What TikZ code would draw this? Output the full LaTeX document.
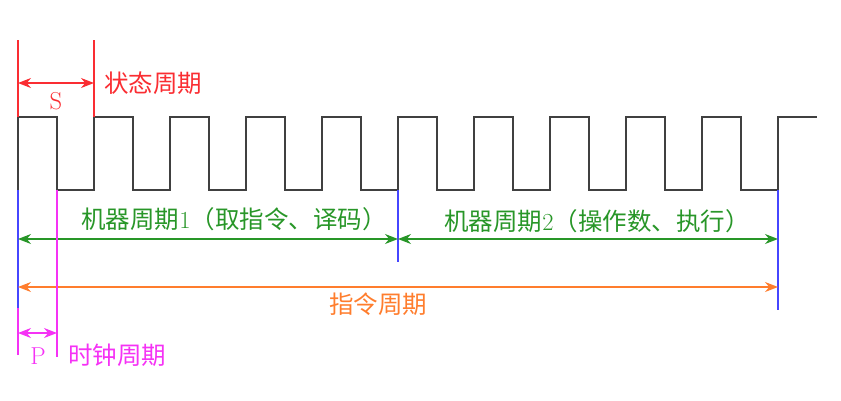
\documentclass[tikz,border=0pt]{standalone}
\usepackage{fontspec}
\newfontfamily\cjk{Noto Sans CJK SC}
\usetikzlibrary{arrows.meta}
\definecolor{statered}{RGB}{250,45,50}
\definecolor{cyclegreen}{RGB}{40,150,40}
\definecolor{instrorange}{RGB}{255,125,45}
\definecolor{clockpink}{RGB}{245,50,245}
\definecolor{edgeblue}{RGB}{70,70,255}

\begin{document}
\begin{tikzpicture}[x=1pt, y=-1pt, >={Stealth[length=13pt,width=10pt]},
    wave/.style={line width=1.5pt, draw=black!75},
    tickline/.style={line width=1.2pt},
    span/.style={<->, line width=1.3pt},
    lbl/.style={inner sep=0pt, font=\fontsize{24.5}{26}\selectfont}]
  \useasboundingbox (0,0) rectangle (841,400);
  % clock signal
  \draw[wave] (18,190) -- (18,117)
    \foreach \i in {0,...,9} {
      -- ({57+76*\i},117) -- ({57+76*\i},190) -- ({94+76*\i},190) -- ({94+76*\i},117)
    } -- (817,117);
  % reference points on the time axis
  \coordinate (s0) at (18,40);
  \coordinate (s1) at (94,40);
  \coordinate (t0) at (18,190);
  \coordinate (t1) at (57,190);
  \coordinate (m1) at (398,190);
  \coordinate (m2) at (778,190);
  % state cycle
  \draw[tickline, statered] (s0) -- ++(0,77);
  \draw[tickline, statered] (s1) -- ++(0,77);
  \draw[span, statered] ([yshift=-43pt]s0) -- ([yshift=-43pt]s1);
  \node[lbl, statered] (sname) at (56,101) {S};
  \node[lbl, statered, anchor=west] (stext) at (104,83) {\cjk 状态周期};
  % machine cycles
  \draw[tickline, edgeblue] (t0) -- ++(0,120);
  \draw[tickline, edgeblue] (m1) -- ++(0,72);
  \draw[tickline, edgeblue] (m2) -- ++(0,120);
  \draw[span, cyclegreen] ([yshift=-49pt]t0) -- ([yshift=-49pt]m1);
  \draw[span, cyclegreen] ([yshift=-49pt]m1) -- ([yshift=-49pt]m2);
  \node[lbl, cyclegreen] (mc1) at (234,219) {\cjk 机器周期\rmfamily 1\cjk（取指令、译码）};
  \node[lbl, cyclegreen] (mc2) at (597,221) {\cjk 机器周期\rmfamily 2\cjk（操作数、执行）};
  % instruction cycle
  \draw[span, instrorange] ([yshift=-97pt]t0) -- ([yshift=-97pt]m2);
  \node[lbl, instrorange] (ic) at (378,304) {\cjk 指令周期};
  % clock cycle
  \draw[tickline, clockpink] ([yshift=-118pt]t0) -- ++(0,47);
  \draw[tickline, clockpink] (t1) -- ++(0,167);
  \draw[span, clockpink] ([yshift=-143pt]t0) -- ([yshift=-143pt]t1);
  \node[lbl, clockpink] (pname) at (38,356) {P};
  \node[lbl, clockpink, anchor=west] (ptext) at (68,355) {\cjk 时钟周期};
\end{tikzpicture}
\end{document}
